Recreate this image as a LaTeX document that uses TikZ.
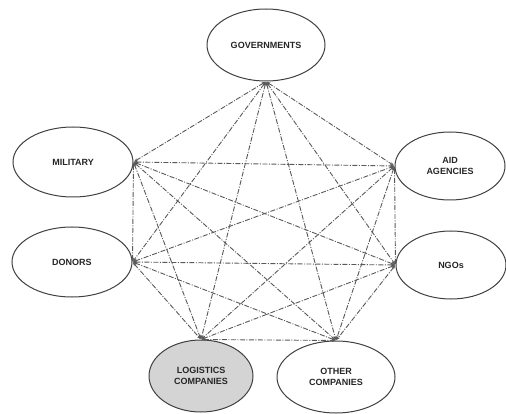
\documentclass[tikz,border=0pt]{standalone}
\usepackage{fontspec}
\setmainfont{Liberation Sans}
\usetikzlibrary{arrows.meta,shapes.geometric}
\begin{document}
\begin{tikzpicture}[x=1pt,y=-1pt,
  actor/.style={ellipse, draw=black!75, line width=1pt, minimum width=2*#1, minimum height=70pt, inner sep=0pt, align=center, font=\bfseries\fontsize{9}{10.5}\selectfont, text=black!85},
  actor/.default=59pt,
  link/.style={draw=black!65, line width=0.9pt, dash pattern=on 5pt off 1.5pt on 1pt off 1.5pt, {Stealth[length=4pt,width=3pt]}-{Stealth[length=4pt,width=3pt]}, shorten <=0.5pt, shorten >=0.5pt}]
\useasboundingbox (0,0) rectangle (506,414);
\node[actor=59pt, minimum height=72pt] (gov) at (266,45) {GOVERNMENTS};
\node[actor=60pt] (mil) at (73,162) {MILITARY};
\node[actor=60pt] (don) at (72,262) {DONORS};
\node[actor=55pt, minimum height=68pt] (aid) at (450,166) {AID\\AGENCIES};
\node[actor=55pt, minimum height=68pt] (ngo) at (451,265) {NGOs};
\node[actor=52pt, minimum height=72pt, fill=black!17] (log) at (201,376) {LOGISTICS\\COMPANIES};
\node[actor=59pt, minimum height=72pt] (oth) at (336,377) {OTHER\\COMPANIES};
\coordinate (g) at (gov.south);
\coordinate (m) at (mil.east);
\coordinate (d) at (don.east);
\coordinate (a) at (aid.west);
\coordinate (n) at (ngo.west);
\coordinate (l) at (log.north);
\coordinate (o) at (oth.north);
\foreach \p/\q in {g/m,g/d,g/a,g/n,g/l,g/o,m/d,m/a,m/n,m/l,m/o,d/a,d/n,d/l,d/o,a/n,a/l,a/o,n/l,n/o,l/o}
  \draw[link] (\p) -- (\q);
\end{tikzpicture}
\end{document}
